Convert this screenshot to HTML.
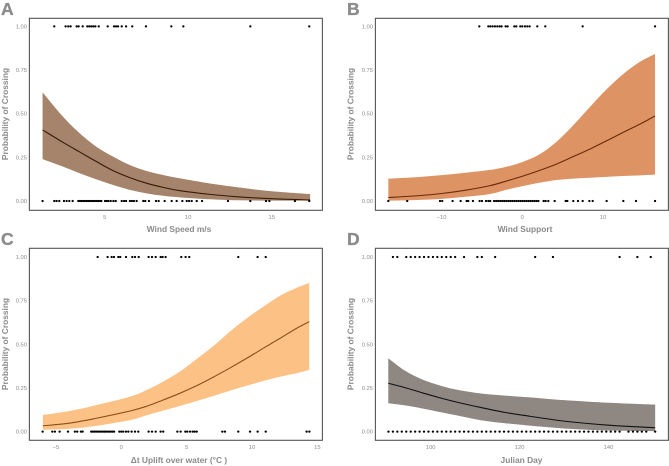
<!DOCTYPE html>
<html lang="en">
<head>
<meta charset="utf-8">
<title>Probability of Crossing</title>
<style>
html,body{margin:0;padding:0;background:#fff;width:669px;height:466px;overflow:hidden}
svg{display:block;font-family:"Liberation Sans",sans-serif}
.letter{font-size:17.5px;font-weight:700;fill:#8c8c8c;stroke:#8c8c8c;stroke-width:.35}
.title{font-size:8.4px;font-weight:700;fill:#8a8a8a;text-anchor:middle}
.tick{font-size:5.8px;fill:#8a8a8a}
</style>
</head>
<body>
<svg id="chart" width="669" height="466" viewBox="0 0 669 466" xmlns="http://www.w3.org/2000/svg">
  <text class="letter" x="1" y="15">A</text>
  <text class="letter" x="347" y="15">B</text>
  <text class="letter" x="1" y="245">C</text>
  <text class="letter" x="347" y="245">D</text>

  <text class="title" x="179" y="232">Wind Speed m/s</text>
  <text class="title" x="525" y="232">Wind Support</text>
  <text class="title" x="179" y="463">Δt Uplift over water (°C )</text>
  <text class="title" x="521.5" y="463">Julian Day</text>

  <text class="title" transform="translate(7.8,114) rotate(-90)">Probability of Crossing</text>
  <text class="title" transform="translate(353.3,114) rotate(-90)">Probability of Crossing</text>
  <text class="title" transform="translate(7.8,344) rotate(-90)">Probability of Crossing</text>
  <text class="title" transform="translate(353.3,344) rotate(-90)">Probability of Crossing</text>
</svg>
<script>
// Shared y axis
const yTicks = [0, 0.25, 0.5, 0.75, 1];
const yTickLabels = ["0.00", "0.25", "0.50", "0.75", "1.00"];

// Panel A: wind speed
const aXTicks = [5, 10, 15];
const aX = [1.28, 2.5, 3.5, 4.5, 5.5, 6.5, 7.5, 8.5, 9.5, 11.3, 13, 15, 17.3];
const aMean = [.407, .336, .281, .226, .174, .134, .102, .078, .059, .038, .024, .013, .006];
const aUpper = [.622, .483, .388, .311, .254, .206, .172, .149, .13, .10, .078, .056, .04];
const aLower = [.24, .197, .159, .124, .092, .064, .044, .03, .021, .01, .004, .002, .001];
const aCrossed = [1.98, 2.66, 2.82, 2.96, 3.32, 3.44, 3.68, 3.96, 4.08, 4.2, 4.32, 4.44, 4.64, 5.18, 5.56, 5.68, 5.8, 6.02, 6.28, 6.65, 7.47, 8.99, 9.71, 13.72, 17.25];
const aNotCrossed = [1.28, 1.98, 2.12, 2.28, 2.56, 2.72, 2.88, 3.08, 3.42, 3.52, 3.62, 3.72, 3.82, 3.92, 4.02, 4.12, 4.22, 4.32, 4.42, 4.52, 4.62, 4.72, 4.8, 5.02, 5.12, 5.22, 5.36, 5.52, 5.66, 6.02, 6.16, 6.28, 6.51, 6.63, 6.75, 6.91, 7.31, 7.43, 7.65, 8.07, 8.23, 8.59, 9.01, 9.31, 9.65, 9.91, 10.05, 10.21, 10.51, 10.83, 12.38, 13.72, 14.66, 14.86, 16.39, 17.25];

// Panel B: wind support
const bXTicks = [-10, 0, 10];
const bX = [-16.6, -13, -10, -7, -4, -1.9, .1, 2.2, 4.26, 6.3, 8.4, 10.45, 12.5, 14.6, 16.45];
const bMean = [.02, .03, .043, .062, .088, .115, .143, .176, .212, .254, .298, .345, .393, .441, .487];
const bUpper = [.128, .137, .148, .162, .178, .197, .225, .269, .34, .433, .54, .64, .727, .798, .842];
const bLower = [.002, .006, .012, .024, .04, .065, .086, .105, .12, .128, .133, .138, .143, .147, .151];
const bCrossed = [-5.33, -4.21, -3.97, -3.68, -3.39, -3.1, -2.81, -2.56, -2.07, -1.82, -0.99, -0.74, -0.25, 0, 0.33, 0.62, 0.91, 1.86, 2.85, 7.48, 16.45];
const bNotCrossed = [-16.6, -14.26, -10.2, -9.92, -8.64, -7.64, -6.9, -6.69, -6.12, -5.29, -5, -4.5, -4.21, -3.97, -3.5, -3.25, -3, -2.75, -2.5, -2.25, -2, -1.75, -1.5, -1.25, -1, -0.75, -0.5, -0.25, 0, 0.25, 0.5, 0.75, 1, 1.25, 1.5, 1.75, 2, 2.64, 2.89, 3.22, 4.01, 5.37, 5.58, 6.32, 6.9, 7.48, 8.31, 8.72, 10.45, 12.52, 14.09, 16.45];

// Panel C: uplift over water
const cXTicks = [-5, 0, 5, 10, 15];
const cX = [-6, -4, -2, .67, 1.94, 3.2, 4.5, 5.77, 7.04, 8.3, 9.6, 10.86, 12.14, 13.42, 14.38];
const cMean = [.033, .048, .075, .118, .145, .181, .22, .263, .312, .364, .42, .477, .534, .592, .63];
const cUpper = [.095, .117, .15, .20, .238, .286, .345, .416, .49, .572, .649, .715, .778, .824, .851];
const cLower = [.01, .016, .032, .066, .094, .12, .147, .175, .204, .234, .263, .29, .314, .335, .353];
const cCrossed = [-1.81, -1.05, -.74, -.56, -.23, -.08, .36, .84, 1.05, 1.33, 2.09, 2.35, 2.63, 3.01, 3.16, 3.39, 4.59, 4.92, 5.2, 8.95, 10.43, 11.05];
const cNotCrossed = [-6.02, -5.28, -5.08, -4.72, -4.08, -3.55, -3.37, -3.09, -2.96, -2.3, -2.175, -2.05, -1.925, -1.8, -1.675, -1.55, -1.425, -1.3, -1.175, -1.05, -.925, -.8, -.675, -.55, -.15, 0, .15, .36, .54, .79, 1.05, 1.3, 2.09, 2.35, 2.63, 3.01, 3.21, 4.29, 4.54, 4.9, 5.05, 5.26, 5.46, 5.61, 5.77, 7.73, 7.93, 8.95, 9.85, 10.43, 11.05, 14.18, 14.39];

// Panel D: julian day
const dXTicks = [100, 120, 140];
const dX = [90.46, 94.2, 98, 101.7, 105.5, 111.1, 116.7, 122.3, 130, 140, 150.5];
const dMean = [.277, .252, .223, .196, .171, .139, .11, .088, .06, .037, .022];
const dUpper = [.42, .349, .30, .267, .242, .219, .206, .196, .18, .165, .155];
const dLower = [.162, .15, .133, .114, .095, .066, .048, .034, .018, .006, .002];
const dCrossed = [91.5, 92.5, 94.5, 95.5, 96.5, 97.5, 98.5, 99.5, 100.5, 101.5, 102.5, 103.5, 104.5, 105.5, 107.5, 110.5, 111.5, 114.5, 123.5, 127.5, 142.5, 146.5, 149.5];
const dNotCrossed = [90.5, 91.5, 92.5, 93.5, 94.5, 95.5, 96.5, 97.5, 98.5, 99.5, 100.5, 101.5, 102.5, 103.5, 104.5, 105.5, 106.5, 107.5, 108.5, 109.5, 110.5, 111.5, 112.5, 113.5, 114.5, 115.5, 116.5, 117.5, 118.5, 119.5, 120.5, 121.5, 122.5, 123.5, 124.5, 125.5, 126.5, 127.5, 128.5, 129.5, 130.5, 131.5, 132.5, 133.5, 134.5, 135.5, 136.5, 137.5, 138.5, 139.5, 140.5, 141.5, 142.5, 144.5, 145.5, 146.5, 147.5, 148.5, 150.5];

const NS = "http://www.w3.org/2000/svg";
const svg = document.getElementById("chart");

function make(tag, attrs, parent) {
  const el = document.createElementNS(NS, tag);
  for (const k in attrs) el.setAttribute(k, attrs[k]);
  parent.appendChild(el);
  return el;
}

// Catmull-Rom smoothing through data points, in pixel space
function smooth(pts, move) {
  let d = (move ? "M" : "L") + pts[0][0].toFixed(2) + " " + pts[0][1].toFixed(2);
  for (let i = 0; i < pts.length - 1; i++) {
    const p0 = pts[i - 1] || pts[i], p1 = pts[i], p2 = pts[i + 1], p3 = pts[i + 2] || p2;
    const c1x = p1[0] + (p2[0] - p0[0]) / 6, c1y = p1[1] + (p2[1] - p0[1]) / 6;
    const c2x = p2[0] - (p3[0] - p1[0]) / 6, c2y = p2[1] - (p3[1] - p1[1]) / 6;
    d += "C" + c1x.toFixed(2) + " " + c1y.toFixed(2) + " " + c2x.toFixed(2) + " " + c2y.toFixed(2) + " " + p2[0].toFixed(2) + " " + p2[1].toFixed(2);
  }
  return d;
}

function drawPanel(p) {
  const g = make("g", {}, svg);
  
  

  const xScale = v => p.x0 + (v - p.d0) * p.xk;
  const yScale = v => p.y0 - v * 174.6;

  // band
  const up = p.xs.map((v, i) => [xScale(v), yScale(p.upper[i])]);
  const lo = p.xs.map((v, i) => [xScale(v), yScale(p.lower[i])]).reverse();
  const band = make("path", { d: smooth(up, true) + smooth(lo, false) + "Z", fill: p.fill }, g);
  
  

  // mean line
  const meanPts = p.xs.map((v, i) => [xScale(v), yScale(p.mean[i])]);
  const line = make("path", { d: smooth(meanPts, true), fill: "none", stroke: p.stroke, "stroke-width": 1.1 }, g);
  
  

  // observations
  p.crossed.forEach(v => {
    const dot = make("circle", { cx: xScale(v).toFixed(2), cy: yScale(1).toFixed(2), r: 1.15, fill: "#000" }, g);
    
    
  });
  p.notCrossed.forEach(v => {
    const dot = make("circle", { cx: xScale(v).toFixed(2), cy: yScale(0).toFixed(2), r: 1.15, fill: "#000" }, g);
    
    
  });

  // frame
  const frame = make("rect", { x: p.left, y: p.top, width: p.width, height: 192, fill: "none", stroke: "#555555", "stroke-width": 1.1 }, g);
  
  

  // y tick labels
  yTicks.forEach((v, i) => {
    const t = make("text", { class: "tick", x: p.left - 2.4, y: yScale(v) + 2, "text-anchor": "end" }, g);
    t.textContent = yTickLabels[i];
    
    
  });

  // x tick labels
  p.xTicks.forEach(v => {
    const t = make("text", { class: "tick", x: xScale(v), y: p.top + 200.5, "text-anchor": "middle" }, g);
    t.textContent = String(v).replace("-", "\u2212");
    
    
  });
}

drawPanel({ id: "a", left: 29.4, top: 18.3, width: 293, y0: 201, x0: 104.7, d0: 5, xk: 16.7, fill: "#a5846b", stroke: "#3a1a06", xTicks: aXTicks, xs: aX, mean: aMean, upper: aUpper, lower: aLower, crossed: aCrossed, notCrossed: aNotCrossed });
drawPanel({ id: "b", left: 375.4, top: 18.3, width: 293, y0: 201, x0: 522.3, d0: 0, xk: 8.07, fill: "#dd9363", stroke: "#6b2a08", xTicks: bXTicks, xs: bX, mean: bMean, upper: bUpper, lower: bLower, crossed: bCrossed, notCrossed: bNotCrossed });
drawPanel({ id: "c", left: 29.4, top: 248.3, width: 293, y0: 431.6, x0: 121.3, d0: 0, xk: 13.07, fill: "#fcc185", stroke: "#8a5018", xTicks: cXTicks, xs: cX, mean: cMean, upper: cUpper, lower: cLower, crossed: cCrossed, notCrossed: cNotCrossed });
drawPanel({ id: "d", left: 375.4, top: 248.3, width: 293, y0: 431.6, x0: 430.7, d0: 100, xk: 4.445, fill: "#8f8781", stroke: "#111111", xTicks: dXTicks, xs: dX, mean: dMean, upper: dUpper, lower: dLower, crossed: dCrossed, notCrossed: dNotCrossed });
</script>
</body>
</html>
